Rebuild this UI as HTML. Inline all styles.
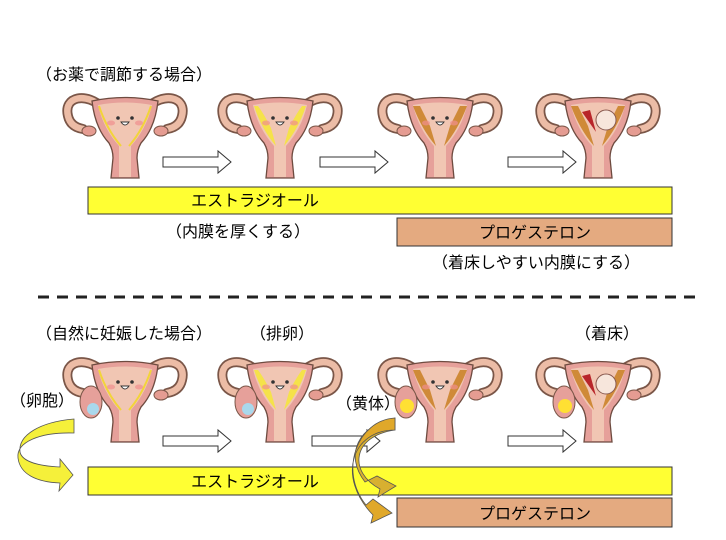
<!DOCTYPE html>
<html><head><meta charset="utf-8"><style>
html,body{margin:0;padding:0;background:#fff;}
svg{display:block;}
text{font-family:"Liberation Sans","Noto Sans CJK JP",sans-serif;fill:#000;}
</style></head><body>
<svg width="726" height="540" viewBox="0 0 726 540" xmlns="http://www.w3.org/2000/svg">
<defs>
<g id="ut">
  <path d="M-22,10 C-38,-6 -62,-2 -57,18 C-55,27 -48,30 -42,31" fill="none" stroke="#7a5648" stroke-width="10" stroke-linecap="round"/>
  <path d="M-22,10 C-38,-6 -62,-2 -57,18 C-55,27 -48,30 -42,31" fill="none" stroke="#ecbca6" stroke-width="6.5" stroke-linecap="round"/>
  <path d="M22,10 C38,-6 62,-2 57,18 C55,27 48,30 42,31" fill="none" stroke="#7a5648" stroke-width="10" stroke-linecap="round"/>
  <path d="M22,10 C38,-6 62,-2 57,18 C55,27 48,30 42,31" fill="none" stroke="#ecbca6" stroke-width="6.5" stroke-linecap="round"/>
  <ellipse cx="-36" cy="33" rx="7" ry="5" fill="#e59c92" stroke="#7a5648" stroke-width="1"/>
  <ellipse cx="36" cy="33" rx="7" ry="5" fill="#e59c92" stroke="#7a5648" stroke-width="1"/>
  <path d="M-33,3 Q0,-4 33,3 Q30,30 16,45 Q12,52 12,60 L14,80 L-14,80 L-12,60 Q-12,52 -16,45 Q-30,30 -33,3 Z" fill="#e6a09a" stroke="#6e4b40" stroke-width="1.3"/>
  <path d="M-27,7 Q0,2 27,7 Q22,30 6,48 L6,79 L-6,79 L-6,48 Q-22,30 -27,7 Z" fill="#f1c6b3"/>
</g>
<g id="face">
  <circle cx="-7" cy="20" r="1.8" fill="#333"/><circle cx="7" cy="20" r="1.8" fill="#333"/>
  <path d="M-4,24 Q0,30 4,24 Z" fill="#fff" stroke="#333" stroke-width="0.9"/>
  <ellipse cx="-14" cy="25" rx="4" ry="2.5" fill="#ef8e8e" opacity="0.7"/>
  <ellipse cx="14" cy="25" rx="4" ry="2.5" fill="#ef8e8e" opacity="0.7"/>
</g>
<g id="yl"><path d="M-26,8 Q-18,32 -4,48 M26,8 Q18,32 4,48" fill="none" stroke="#f2d43a" stroke-width="2"/></g>
<g id="yw"><path d="M-26,8 Q-18,32 -4,48 L-9,30 Q-16,16 -22,8 Z M26,8 Q18,32 4,48 L9,30 Q16,16 22,8 Z" fill="#f5e24a"/></g>
<g id="br"><path d="M-27,8 Q-18,32 -4,48 L-10,28 Q-16,16 -20,8 Z M27,8 Q18,32 4,48 L10,28 Q16,16 20,8 Z" fill="#cf8a38"/></g>
<g id="harr"><path d="M0,-5 L55,-5 L55,-11 L68,0 L55,11 L55,5 L0,5 Z" fill="#fff" stroke="#333" stroke-width="1"/></g>
</defs>

<text x="36" y="80" font-size="16">（お薬で調節する場合）</text>

<g transform="translate(125,98)"><use href="#ut"/><use href="#yl"/><use href="#face"/></g>
<g transform="translate(280,98)"><use href="#ut"/><use href="#yw"/><use href="#face"/></g>
<g transform="translate(440,98)"><use href="#ut"/><use href="#br"/><use href="#face"/></g>
<g transform="translate(598,98)"><use href="#ut"/><use href="#br"/>
  <path d="M-16,14 L-8,12 L-2,34 Z" fill="#b8252a"/>
  <circle cx="8" cy="22" r="10" fill="#f7e6dc" stroke="#8a5a50" stroke-width="1"/>
</g>

<use href="#harr" transform="translate(163,162)"/>
<use href="#harr" transform="translate(320,162)"/>
<use href="#harr" transform="translate(508,162)"/>

<rect x="88" y="187" width="584" height="27" fill="#ffff33" stroke="#333" stroke-width="1"/>
<text x="255" y="206" font-size="16" text-anchor="middle">エストラジオール</text>
<text x="238" y="237" font-size="16" text-anchor="middle">（内膜を厚くする）</text>
<rect x="397" y="218" width="275" height="28" fill="#e4aa80" stroke="#333" stroke-width="1"/>
<text x="535" y="238" font-size="16" text-anchor="middle">プロゲステロン</text>
<text x="536" y="268" font-size="16" text-anchor="middle">（着床しやすい内膜にする）</text>

<line x1="38" y1="297" x2="700" y2="297" stroke="#222" stroke-width="3" stroke-dasharray="11,8"/>

<text x="36" y="339" font-size="16">（自然に妊娠した場合）</text>
<text x="250" y="339" font-size="16">（排卵）</text>
<text x="575" y="339" font-size="16">（着床）</text>

<g transform="translate(125,362)"><use href="#ut"/><use href="#yl"/><use href="#face"/>
  <ellipse cx="-34" cy="40" rx="11" ry="16" fill="#e6a09a" stroke="#7a5648" stroke-width="1"/>
  <circle cx="-32" cy="47" r="6" fill="#a9d8ec"/></g>
<g transform="translate(280,362)"><use href="#ut"/><use href="#yw"/><use href="#face"/>
  <ellipse cx="-34" cy="40" rx="11" ry="16" fill="#e6a09a" stroke="#7a5648" stroke-width="1"/>
  <circle cx="-32" cy="47" r="6" fill="#a9d8ec"/></g>
<g transform="translate(440,362)"><use href="#ut"/><use href="#br"/><use href="#face"/>
  <ellipse cx="-34" cy="40" rx="11" ry="16" fill="#e6a09a" stroke="#7a5648" stroke-width="1"/>
  <circle cx="-33" cy="44" r="7" fill="#ffe033"/></g>
<g transform="translate(598,362)"><use href="#ut"/><use href="#br"/>
  <path d="M-16,14 L-8,12 L-2,34 Z" fill="#b8252a"/>
  <circle cx="8" cy="22" r="10" fill="#f7e6dc" stroke="#8a5a50" stroke-width="1"/>
  <ellipse cx="-34" cy="40" rx="11" ry="16" fill="#e6a09a" stroke="#7a5648" stroke-width="1"/>
  <circle cx="-33" cy="44" r="7" fill="#ffe033"/></g>

<text x="10" y="406" font-size="16">（卵胞）</text>
<text x="336" y="409" font-size="16">（黄体）</text>

<use href="#harr" transform="translate(163,441)"/>
<use href="#harr" transform="translate(312,441)"/>
<use href="#harr" transform="translate(508,441)"/>

<rect x="88" y="467" width="584" height="28" fill="#ffff33" stroke="#333" stroke-width="1"/>
<text x="255" y="487" font-size="16" text-anchor="middle">エストラジオール</text>
<rect x="397" y="498" width="275" height="29" fill="#e4aa80" stroke="#333" stroke-width="1"/>
<text x="535" y="519" font-size="16" text-anchor="middle">プロゲステロン</text>

<path d="M74,419 C40,422 18,435 20,452 C22,462 40,466 60,467 L60,459 L73,475 L59,491 L60,483 C36,482 20,474 18,458 C16,442 40,432 74,433 Z" fill="#f5f03a" stroke="#555" stroke-width="0.8"/>
<path d="M395,418 C358,425 344,455 365,482 L377,476 L396,486 L378,497 L380,489 C348,472 352,436 395,430 Z" fill="#d8b030" stroke="#555" stroke-width="0.8"/>
<path d="M395,418 C358,420 338,470 366,505 L373,499 L392,513 L371,523 L373,515 C336,477 352,430 395,430 Z" fill="#e0a82a" stroke="#555" stroke-width="0.8"/>
</svg>
</body></html>
